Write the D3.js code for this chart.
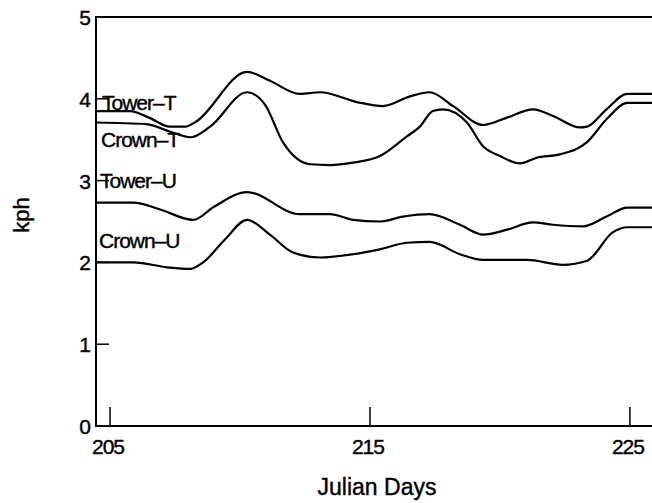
<!DOCTYPE html>
<html>
<head>
<meta charset="utf-8">
<script src="https://cdn.jsdelivr.net/npm/d3@7"></script>
<style>
  body { margin: 0; background: #fff; }
  text { font-family: "Liberation Sans", Arial, sans-serif; fill: #000; stroke: #000; stroke-width: 0.4px; }
</style>
</head>
<body>
<div class="canvas"></div>
<script>
// Julian days sampled along each curve
const towerTDays = [204.46, 205.77, 206.5, 207.3, 207.9, 208.3, 210.27, 211.15, 212.3, 213.08, 214.5, 215.5, 216.54, 217.3, 218.2, 219.35, 220.27, 221.27, 222.04, 223.08, 223.35, 224.1, 224.9, 225.85]
const towerTVals = [3.85, 3.85, 3.77, 3.66, 3.66, 3.72, 4.33, 4.22, 4.06, 4.08, 3.96, 3.91, 4.03, 4.08, 3.91, 3.68, 3.77, 3.87, 3.79, 3.65, 3.66, 3.87, 4.06, 4.06]

const crownTDays = [204.46, 206.4, 207.3, 208.1, 208.85, 210.27, 210.96, 211.65, 212.7, 213.46, 214.35, 215.38, 216.42, 216.92, 217.42, 217.8, 218.73, 219.35, 220.0, 220.77, 221.42, 222.3, 223.35, 224.1, 224.9, 225.85]
const crownTVals = [3.71, 3.69, 3.60, 3.53, 3.66, 4.08, 3.93, 3.47, 3.20, 3.19, 3.22, 3.30, 3.54, 3.66, 3.85, 3.87, 3.71, 3.42, 3.30, 3.21, 3.28, 3.32, 3.47, 3.75, 3.95, 3.95]

const towerUDays = [204.46, 205.9, 206.9, 208.2, 209.0, 210.27, 212.3, 213.46, 214.35, 215.38, 216.27, 217.3, 218.46, 219.35, 220.27, 221.27, 222.04, 223.2, 224.1, 224.9, 225.85]
const towerUVals = [2.73, 2.73, 2.65, 2.52, 2.68, 2.86, 2.59, 2.59, 2.52, 2.50, 2.56, 2.59, 2.46, 2.34, 2.40, 2.49, 2.46, 2.44, 2.56, 2.67, 2.67]

const crownUDays = [204.46, 205.9, 207.2, 208.08, 208.58, 209.42, 210.27, 211.15, 212.04, 213.08, 214.35, 215.38, 216.42, 217.3, 218.46, 219.35, 221.04, 222.42, 223.35, 224.35, 224.9, 225.85]
const crownUVals = [2.00, 2.00, 1.94, 1.92, 2.00, 2.28, 2.52, 2.34, 2.12, 2.06, 2.10, 2.16, 2.24, 2.25, 2.10, 2.03, 2.03, 1.97, 2.02, 2.37, 2.43, 2.43]

const seriesNames = ['Tower–T', 'Crown–T', 'Tower–U', 'Crown–U']
const xTicks = [205, 215, 225]
const yTicks = [0, 1, 2, 3, 4, 5]

const series = [
  { name: seriesNames[0], days: towerTDays, vals: towerTVals, lx: 102, ly: 110 },
  { name: seriesNames[1], days: crownTDays, vals: crownTVals, lx: 101, ly: 147 },
  { name: seriesNames[2], days: towerUDays, vals: towerUVals, lx: 100, ly: 188 },
  { name: seriesNames[3], days: crownUDays, vals: crownUVals, lx: 99, ly: 248 }
]

const svg = d3.select('.canvas')
  .append('svg')
  .attr('width', 652)
  .attr('height', 503)

const x = d3.scaleLinear().domain([204.46, 225.85]).range([96, 652])
const y = d3.scaleLinear().domain([0, 5]).range([426, 17])

// frame: left, bottom and top lines
svg.append('path')
  .attr('d', `M${x.range()[1]},${y(5)}H${x.range()[0]}V${y(0)}H${x.range()[1]}`)
  .attr('fill', 'none')
  .attr('stroke', '#000')
  .attr('stroke-width', 2)

// y ticks (inside)
svg.selectAll('.ytick')
  .data(yTicks.filter(d => d > 0 && d < 5))
  .enter()
  .append('line')
  .attr('x1', 96).attr('x2', 109)
  .attr('y1', d => y(d)).attr('y2', d => y(d))
  .attr('stroke', '#000')
  .attr('stroke-width', 1.5)

svg.selectAll('.ylab')
  .data(yTicks)
  .enter()
  .append('text')
  .attr('x', 91)
  .attr('y', d => y(d) + 8)
  .attr('text-anchor', 'end')
  .style('font-size', '21px')
  .text(d => d)

// x ticks (inside, pointing up)
svg.selectAll('.xtick')
  .data(xTicks)
  .enter()
  .append('line')
  .attr('x1', d => x(d)).attr('x2', d => x(d))
  .attr('y1', y(0)).attr('y2', y(0) - 19)
  .attr('stroke', '#000')
  .attr('stroke-width', 1.5)

svg.selectAll('.xlab')
  .data(xTicks)
  .enter()
  .append('text')
  .attr('x', d => x(d) - 2)
  .attr('y', 454)
  .attr('text-anchor', 'middle')
  .attr('letter-spacing', '-1px')
  .style('font-size', '21px')
  .text(d => d)

svg.append('text')
  .attr('x', 377)
  .attr('y', 495)
  .attr('text-anchor', 'middle')
  .style('font-size', '23px')
  .text('Julian Days')

svg.append('text')
  .attr('transform', 'translate(29, 215) rotate(-90)')
  .attr('text-anchor', 'middle')
  .style('font-size', '22px')
  .text('kph')

const line = d3.line()
  .x(d => x(d[0]))
  .y(d => y(d[1]))
  .curve(d3.curveMonotoneX)

svg.selectAll('.series')
  .data(series)
  .enter()
  .append('path')
  .attr('d', s => line(d3.zip(s.days, s.vals)))
  .attr('fill', 'none')
  .attr('stroke', '#000')
  .attr('stroke-width', 2.2)

svg.selectAll('.slab')
  .data(series)
  .enter()
  .append('text')
  .attr('x', s => s.lx)
  .attr('y', s => s.ly)
  .attr('letter-spacing', '-1px')
  .style('font-size', '21px')
  .text(s => s.name)
</script>
</body>
</html>
